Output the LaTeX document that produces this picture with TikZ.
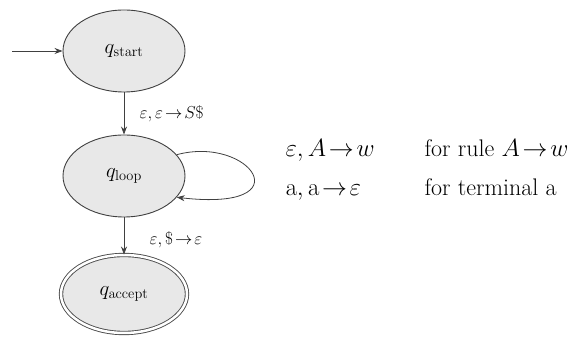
\documentclass[tikz,border=0pt]{standalone}
\usetikzlibrary{arrows.meta,shapes.geometric}
\begin{document}
\begin{tikzpicture}[x=1pt,y=-1pt,
  state/.style={draw=black!75,line width=0.9pt,fill=gray!18,ellipse,inner sep=0pt,minimum width=122pt,minimum height=82pt},
  qtext/.style={font=\fontsize{22}{24}\selectfont},
  edgelab/.style={font=\fontsize{18}{20}\selectfont,anchor=west},
  rlab/.style={font=\fontsize{24}{26}\selectfont,anchor=base west},
  arr/.style={draw=black!75,line width=0.8pt,-{Stealth[length=8pt,width=6pt]}}]
\useasboundingbox (0,0) rectangle (579,344);
\node[state,qtext] (start) at (124,51) {$q_{\mathrm{start}}$};
\node[state,qtext] (loop) at (124,176) {$q_{\mathrm{loop}}$};
\node[state,qtext,minimum width=126pt,minimum height=78pt,double=white,double distance=2.5pt,draw=black!70] (accept) at (124,294) {$q_{\mathrm{accept}}$};
\coordinate (init) at (12,51);
\draw[arr] (init) -- (start);
\draw[arr] (start) -- (loop) node[edgelab,pos=0.5,xshift=12pt] {$\varepsilon,\varepsilon\!\to\! S\$$};
\draw[arr] (loop) -- (accept) node[edgelab,pos=0.6,xshift=22pt] {$\varepsilon,\$\!\to\!\varepsilon$};
\draw[arr] (loop.22) .. controls (250,135) and (305,212) .. (loop.-22);
\node[rlab] (r1) at (282,157) {$\varepsilon,A\!\to\! w$};
\node[rlab] (r2) at (282,196) {$\mathrm{a},\mathrm{a}\!\to\!\varepsilon$};
\node[rlab] (t1) at (421,157) {for rule $A\!\to\! w$};
\node[rlab] (t2) at (421,196) {for terminal a};
\end{tikzpicture}
\end{document}
